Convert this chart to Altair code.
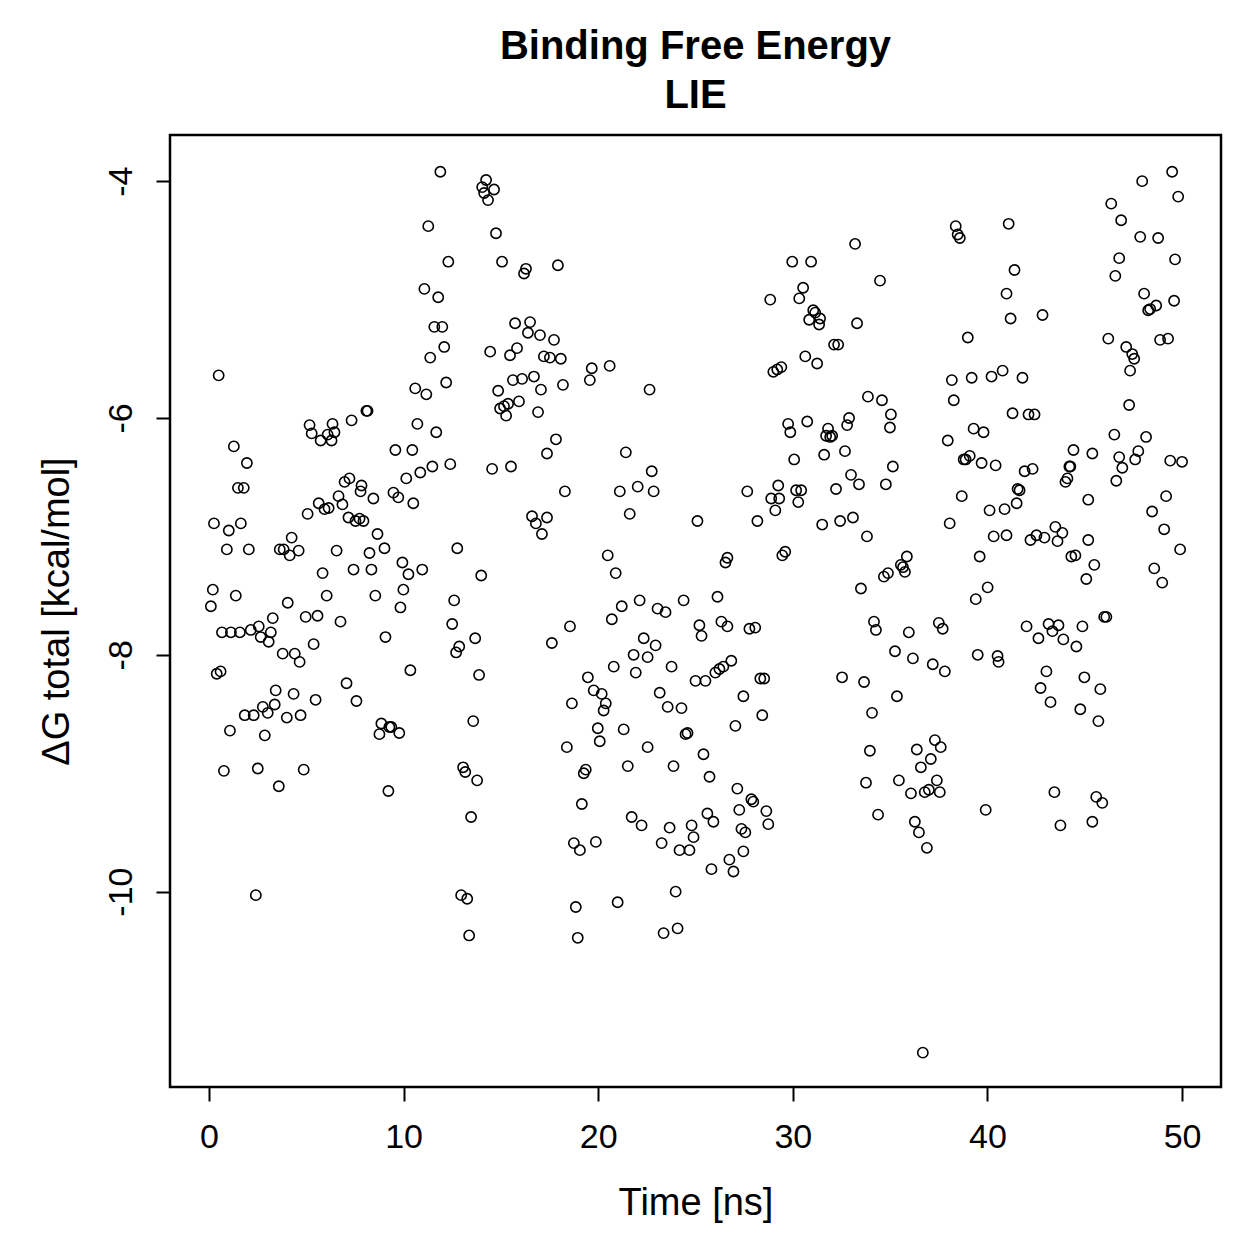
import altair as alt
import pandas as pd

time_ns = [
    0.1, 0.2, 0.26, 0.4, 0.5, 0.6, 0.67, 0.77, 0.92, 1.02, 1.08, 1.13, 1.28, 1.38, 1.49, 1.59, 1.64, 1.79, 1.84, 1.95,
    2.05, 2.15, 2.30, 2.41, 2.51, 2.56, 2.66, 2.77, 2.87, 3.02, 3.07, 3.18, 3.28, 3.38, 3.43, 3.59, 3.64, 3.79, 3.84, 4.00,
    4.05, 4.15, 4.25, 4.35, 4.41, 4.61, 4.66, 4.71, 4.87, 4.97, 5.07, 5.17, 5.28, 5.38, 5.48, 5.58, 5.64, 5.74, 5.84, 5.94,
    6.05, 6.10, 6.15, 6.30, 6.35, 6.45, 6.56, 6.66, 6.76, 6.86, 6.97, 7.07, 7.17, 7.22, 7.33, 7.43, 7.53, 7.58, 7.74, 7.79,
    7.84, 7.94, 8.09, 8.15, 8.25, 8.35, 8.45, 8.55, 8.66, 8.76, 8.86, 9.02, 9.07, 9.22, 9.27, 9.37, 9.48, 9.58, 9.73, 9.78,
    9.84, 9.94, 9.99, 10.14, 10.25, 10.35, 10.45, 10.50, 10.60, 10.71, 10.86, 10.96, 11.07, 11.17, 11.27, 11.37, 11.48, 11.58, 11.68, 11.78,
    11.89, 11.99, 12.09, 12.19, 12.30, 12.40, 12.50, 12.60, 12.70, 12.76, 12.86, 12.96, 13.06, 13.17, 13.27, 13.37, 13.47, 13.58, 13.68, 13.78,
    13.88, 13.99, 14.04, 14.14, 14.24, 14.34, 14.45, 14.55, 14.65, 14.75, 14.86, 14.96, 15.06, 15.16, 15.27, 15.37, 15.47, 15.52, 15.62, 15.73,
    15.83, 15.93, 16.09, 16.19, 16.29, 16.39, 16.50, 16.60, 16.70, 16.80, 16.91, 17.01, 17.06, 17.11, 17.21, 17.37, 17.37, 17.52, 17.62, 17.73,
    17.83, 17.93, 18.08, 18.19, 18.29, 18.39, 18.55, 18.65, 18.75, 18.85, 18.95, 19.06, 19.16, 19.26, 19.36, 19.47, 19.57, 19.67, 19.77, 19.88,
    19.98, 20.08, 20.18, 20.28, 20.39, 20.49, 20.59, 20.70, 20.80, 20.90, 21.00, 21.11, 21.21, 21.31, 21.42, 21.52, 21.62, 21.72, 21.82, 21.93,
    22.03, 22.13, 22.23, 22.34, 22.54, 22.54, 22.64, 22.75, 22.85, 22.95, 23.05, 23.16, 23.26, 23.36, 23.46, 23.57, 23.67, 23.77, 23.87, 23.98,
    24.08, 24.18, 24.28, 24.39, 24.49, 24.59, 24.69, 24.80, 24.90, 25.00, 25.10, 25.20, 25.31, 25.41, 25.51, 25.61, 25.72, 25.82, 25.92, 26.02,
    26.13, 26.23, 26.33, 26.43, 26.54, 26.64, 26.64, 26.74, 26.84, 26.95, 27.05, 27.15, 27.25, 27.36, 27.46, 27.46, 27.56, 27.66, 27.77, 27.87,
    27.97, 28.07, 28.18, 28.33, 28.43, 28.53, 28.64, 28.74, 28.84, 28.89, 29.00, 29.10, 29.20, 29.25, 29.30, 29.41, 29.46, 29.61, 29.76, 29.87,
    29.97, 30.07, 30.17, 30.28, 30.33, 30.43, 30.53, 30.64, 30.74, 30.84, 30.94, 31.05, 31.15, 31.25, 31.35, 31.40, 31.51, 31.61, 31.71, 31.81,
    31.92, 32.02, 32.12, 32.22, 32.33, 32.43, 32.53, 32.68, 32.79, 32.89, 32.99, 33.09, 33.20, 33.30, 33.40, 33.50, 33.66, 33.76, 33.81, 33.86,
    33.96, 34.07, 34.17, 34.27, 34.38, 34.48, 34.58, 34.68, 34.78, 34.89, 34.99, 35.04, 35.14, 35.25, 35.35, 35.45, 35.55, 35.66, 35.76, 35.86,
    35.96, 36.07, 36.17, 36.27, 36.37, 36.48, 36.58, 36.68, 36.78, 36.89, 36.99, 37.09, 37.19, 37.30, 37.40, 37.50, 37.55, 37.60, 37.70, 37.81,
    37.96, 38.06, 38.17, 38.27, 38.37, 38.47, 38.58, 38.68, 38.78, 38.88, 38.99, 39.09, 39.19, 39.29, 39.40, 39.50, 39.60, 39.70, 39.80, 39.91,
    40.01, 40.11, 40.21, 40.32, 40.42, 40.52, 40.57, 40.78, 40.88, 40.98, 40.98, 41.09, 41.19, 41.29, 41.39, 41.50, 41.55, 41.65, 41.80, 41.91,
    42.01, 42.11, 42.21, 42.32, 42.42, 42.52, 42.62, 42.73, 42.83, 42.93, 43.03, 43.14, 43.24, 43.34, 43.44, 43.49, 43.60, 43.65, 43.75, 43.85,
    43.90, 44.01, 44.11, 44.21, 44.26, 44.31, 44.42, 44.52, 44.57, 44.77, 44.88, 44.98, 45.08, 45.18, 45.18, 45.39, 45.39, 45.49, 45.59, 45.70,
    45.80, 45.90, 46.00, 46.11, 46.21, 46.36, 46.52, 46.57, 46.62, 46.77, 46.77, 46.87, 46.93, 47.13, 47.28, 47.33, 47.44, 47.54, 47.59, 47.75,
    47.85, 47.95, 48.05, 48.15, 48.26, 48.36, 48.46, 48.57, 48.67, 48.77, 48.87, 48.98, 49.08, 49.18, 49.28, 49.39, 49.49, 49.59, 49.64, 49.80,
    49.90, 50.00,
]

dg_total = [
    -7.59, -7.45, -6.89, -8.16, -5.64, -8.14, -7.81, -8.98, -7.11, -6.95, -8.64, -7.81, -6.24, -7.50, -6.59, -7.81, -6.89, -6.59, -8.51, -6.38,
    -7.11, -7.79, -8.51, -10.03, -8.96, -7.76, -7.85, -8.44, -8.68, -8.49, -7.89, -7.81, -7.69, -8.42, -8.30, -9.11, -7.11, -7.99, -7.11, -8.53,
    -7.56, -7.16, -7.01, -8.33, -7.99, -7.12, -8.06, -8.51, -8.97, -7.68, -6.81, -6.06, -6.13, -7.91, -8.38, -7.67, -6.72, -6.19, -7.31, -6.77,
    -7.50, -6.14, -6.76, -6.19, -6.05, -6.12, -7.12, -6.66, -7.72, -6.73, -6.54, -8.24, -6.84, -6.51, -6.02, -7.28, -6.87, -8.39, -6.85, -6.62,
    -6.57, -6.87, -5.94, -5.94, -7.14, -7.28, -6.68, -7.50, -6.98, -8.67, -8.58, -7.10, -7.85, -9.15, -8.61, -8.61, -6.63, -6.27, -6.67, -8.66,
    -7.60, -7.22, -7.45, -6.51, -7.32, -8.13, -6.27, -6.72, -5.75, -6.05, -6.46, -7.28, -4.91, -5.80, -4.38, -5.49, -6.41, -5.23, -6.12, -4.98,
    -3.92, -5.23, -5.40, -5.70, -4.68, -6.39, -7.74, -7.54, -7.98, -7.10, -7.93, -10.03, -8.95, -8.99, -10.06, -10.37, -9.37, -8.56, -7.86, -9.06,
    -8.17, -7.33, -4.05, -4.10, -3.99, -4.16, -5.44, -6.43, -4.07, -4.44, -5.77, -5.92, -4.68, -5.90, -5.98, -5.88, -5.47, -6.41, -5.68, -5.20,
    -5.41, -5.86, -5.67, -4.78, -4.74, -5.28, -5.19, -6.83, -5.65, -6.89, -5.95, -5.30, -5.76, -6.98, -5.48, -6.30, -6.84, -5.49, -7.90, -5.34,
    -6.18, -4.71, -5.50, -5.72, -6.62, -8.78, -7.76, -8.41, -9.59, -10.13, -10.39, -9.65, -9.26, -9.00, -8.97, -8.19, -5.68, -5.58, -8.30, -9.58,
    -8.62, -8.73, -8.33, -8.47, -8.41, -7.16, -5.56, -7.70, -8.10, -7.31, -10.09, -6.62, -7.59, -8.63, -6.29, -8.94, -6.81, -9.37, -8.00, -8.15,
    -6.58, -7.54, -9.44, -7.86, -8.02, -8.78, -5.76, -6.45, -6.62, -7.92, -7.61, -8.32, -9.59, -10.35, -7.64, -8.44, -9.46, -8.10, -8.94, -10.00,
    -10.31, -9.65, -8.45, -7.54, -8.67, -8.66, -9.65, -9.44, -9.54, -8.22, -6.87, -7.75, -7.84, -8.84, -8.22, -9.34, -9.03, -9.81, -9.41, -8.15,
    -7.51, -8.12, -7.72, -8.10, -7.22, -7.18, -7.76, -9.73, -8.05, -9.83, -8.60, -9.13, -9.31, -9.47, -8.35, -9.66, -9.50, -6.62, -7.78, -9.22,
    -9.24, -7.77, -6.87, -8.20, -8.51, -8.20, -9.32, -9.43, -5.00, -6.68, -5.61, -6.78, -5.59, -6.57, -6.68, -5.57, -7.16, -7.13, -6.05, -6.12,
    -4.68, -6.35, -6.61, -6.71, -4.99, -6.61, -4.90, -5.48, -6.03, -5.17, -4.68, -5.09, -5.11, -5.54, -5.21, -5.16, -6.90, -6.31, -6.15, -6.09,
    -6.16, -6.15, -5.38, -6.60, -5.38, -6.87, -8.19, -6.28, -6.06, -6.00, -6.48, -6.84, -4.53, -5.20, -6.56, -7.44, -8.23, -9.08, -7.00, -5.82,
    -8.81, -8.49, -7.72, -7.79, -9.35, -4.84, -5.85, -7.34, -6.56, -7.31, -6.08, -5.97, -6.41, -7.97, -8.35, -9.06, -7.24, -7.26, -7.30, -7.17,
    -7.81, -9.17, -8.03, -9.41, -8.80, -9.50, -8.95, -11.36, -9.16, -9.63, -9.14, -8.88, -8.08, -8.72, -9.06, -7.73, -9.16, -8.78, -7.78, -8.14,
    -6.19, -6.89, -5.68, -5.85, -4.38, -4.45, -4.48, -6.66, -6.35, -6.35, -5.32, -6.32, -5.66, -6.09, -7.53, -8.00, -7.17, -6.38, -6.12, -9.31,
    -7.43, -6.78, -5.65, -7.00, -6.40, -8.01, -8.06, -5.60, -6.77, -6.99, -4.95, -4.36, -5.16, -5.96, -4.75, -6.72, -6.60, -6.61, -5.66, -6.45,
    -7.76, -5.97, -7.03, -6.43, -5.97, -6.99, -7.86, -8.28, -5.13, -7.01, -8.14, -7.74, -8.40, -7.80, -9.16, -6.92, -7.04, -7.75, -9.44, -6.97,
    -7.87, -6.54, -6.51, -6.41, -6.41, -7.17, -6.27, -7.16, -7.93, -8.46, -7.76, -8.19, -7.36, -6.69, -7.03, -6.30, -9.41, -7.24, -9.20, -8.56,
    -8.29, -9.25, -7.68, -7.68, -5.33, -4.19, -6.14, -4.80, -6.53, -6.33, -4.65, -4.33, -6.42, -5.40, -5.89, -5.60, -5.46, -5.50, -6.35, -6.28,
    -4.47, -4.00, -4.95, -6.16, -5.09, -5.08, -6.79, -7.27, -5.05, -4.48, -5.34, -7.39, -6.94, -6.66, -5.33, -6.36, -3.92, -5.01, -4.66, -4.13,
    -7.11, -6.37,
]

x_ticks = [0, 10, 20, 30, 40, 50]
y_ticks = [-10, -8, -6, -4]
title_lines = ["Binding Free Energy", "LIE"]
x_title = "Time [ns]"
y_title = "ΔG total [kcal/mol]"

FONT = "Liberation Sans"
W, H = 1051, 952

df = pd.DataFrame({"time": time_ns, "dg": dg_total})

chart = (
    alt.Chart(df)
    .mark_point(shape="circle", filled=False, color="black", size=105, strokeWidth=1.6, opacity=1)
    .encode(
        x=alt.X(
            "time:Q",
            scale=alt.Scale(domain=[-2, 52], nice=False, zero=False),
            axis=alt.Axis(
                values=x_ticks, title=x_title, grid=False, domain=False,
                tickSize=14, tickWidth=2, tickColor="black",
                labelFontSize=34, labelFont=FONT, labelColor="black", labelPadding=19,
                labelExpr="datum.value + ''",
                titleFontSize=38, titleFont=FONT, titleFontWeight="normal", titleColor="black",
                titleX=W / 2, titleY=116, titleBaseline="middle", titleAlign="center",
            ),
        ),
        y=alt.Y(
            "dg:Q",
            scale=alt.Scale(domain=[-11.65, -3.61], nice=False, zero=False),
            axis=alt.Axis(
                values=y_ticks, title=y_title, grid=False, domain=False,
                tickSize=14, tickWidth=2, tickColor="black",
                labelFontSize=34, labelFont=FONT, labelColor="black", labelPadding=18,
                labelAngle=270, labelAlign="center", labelBaseline="bottom",
                labelExpr="datum.value + ''",
                titleFontSize=38, titleFont=FONT, titleFontWeight="normal", titleColor="black",
                titleX=-113, titleY=H / 2, titleAngle=270, titleAlign="center", titleBaseline="middle",
            ),
        ),
    )
    .properties(
        width=W,
        height=H,
        title=alt.TitleParams(
            text=title_lines, fontSize=40, font=FONT, fontWeight="bold", color="black",
            anchor="middle", lineHeight=49, offset=19,
        ),
    )
    .configure(autosize=alt.AutoSizeParams(type="none"), padding={"left": 170, "top": 135, "right": 38, "bottom": 172}, background="white")
    .configure_view(stroke="black", strokeWidth=2.5)
)

chart.save("out.html", embed_options={"renderer": "svg", "actions": False})
